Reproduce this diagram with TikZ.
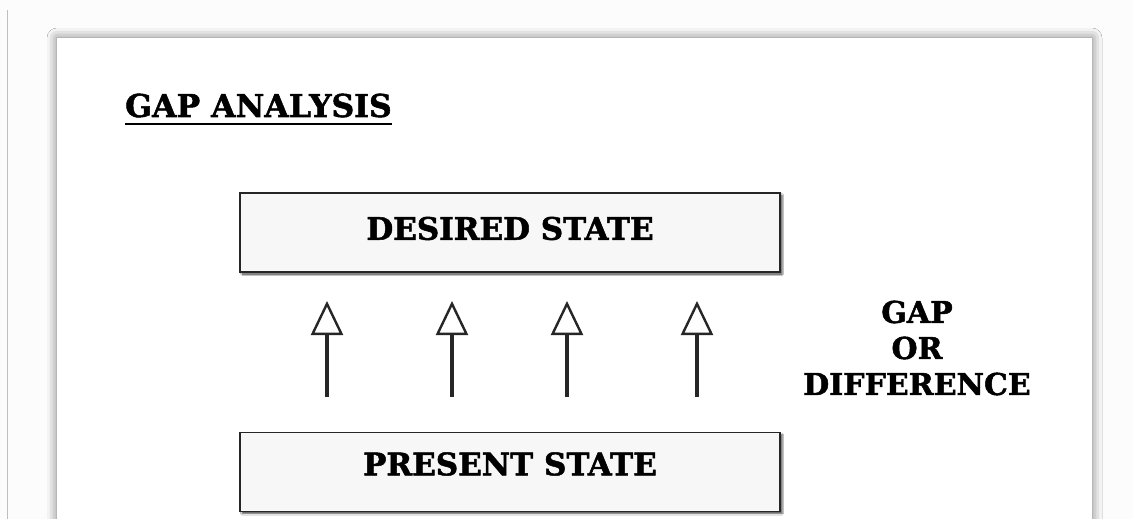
\documentclass[tikz,border=0pt]{standalone}
\usepackage{fontspec}
\setmainfont{DejaVu Serif}[BoldFeatures={FakeBold=1.6}]
\usetikzlibrary{arrows.meta,shadows.blur}

\tikzset{
  card/.style={fill=white, draw=none,
    blur shadow={shadow xshift=0pt, shadow yshift=0pt, shadow blur radius=10pt, shadow opacity=55}},
  statebox/.style={draw=black!85, line width=1.5pt, fill=black!3, minimum width=540pt, minimum height=79pt,
    inner sep=0pt,
    blur shadow={shadow xshift=2pt, shadow yshift=-2pt, shadow blur radius=1.5pt, shadow opacity=70}},
  statetext/.style={font=\bfseries\fontsize{31}{31}\selectfont, inner sep=0pt},
  label/.style={font=\bfseries\fontsize{30}{36}\selectfont, align=center, inner sep=0pt},
  gaparrow/.style={line width=3.5pt, draw=black!85, -{Triangle[open, length=34pt, width=32pt, line width=2.4pt]}}
}

\begin{document}
\begin{tikzpicture}[x=1pt, y=-1pt]
  \useasboundingbox (0,0) rectangle (1133,519);
  \fill[black!1] (0,0) rectangle (1133,519);
  % thin frame line on the left
  \draw[black!25, line width=1pt] (7,10) -- (7,519);
  % the page
  \path[card] (57,38) rectangle (1092,540);

  % title
  \node[font=\bfseries\fontsize{31.5}{31.5}\selectfont, anchor=base west, inner sep=0pt] (title) at (125,117) {GAP ANALYSIS};
  \draw[line width=2.2pt] (title.base west) ++(0,7) -- ([yshift=-7pt]title.base east);

  % states
  \node[statebox] (desired) at (510,232.5) {};
  \node[statetext] at ([yshift=4pt]desired.center) {DESIRED STATE};
  \node[statebox] (present) at (510,472) {};
  \node[statetext] at ([yshift=8pt]present.center) {PRESENT STATE};

  % arrows from present to desired
  \foreach \x/\n in {327/a, 452/b, 567/c, 697/d} {
    \coordinate (s\n) at (\x,397);
    \coordinate (t\n) at (\x,301);
    \draw[gaparrow] (s\n) -- (t\n);
  }

  % side label
  \node[label] (gap) at (917,348) {GAP\\OR\\DIFFERENCE};
\end{tikzpicture}
\end{document}
